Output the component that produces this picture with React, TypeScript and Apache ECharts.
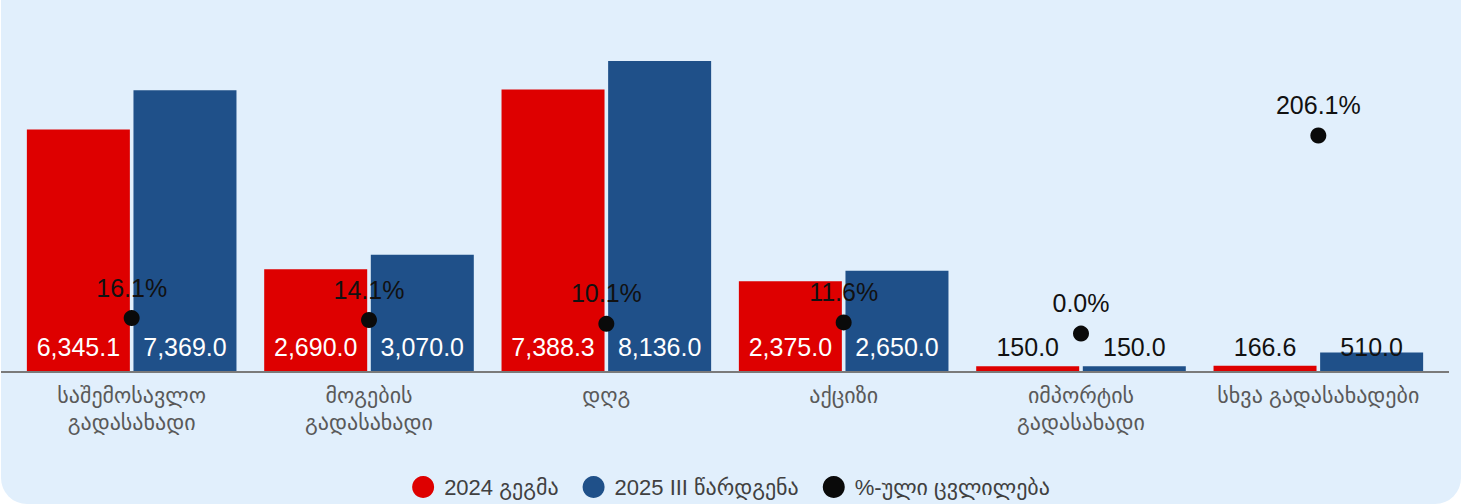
import React, { useEffect, useRef } from "react";
import * as echarts from "echarts";

const categories = [
  "საშემოსავლო\nგადასახადი",
  "მოგების\nგადასახადი",
  "დღგ",
  "აქციზი",
  "იმპორტის\nგადასახადი",
  "სხვა გადასახადები",
];
const plan2024 = [6345.1, 2690.0, 7388.3, 2375.0, 150.0, 166.6];
const submission2025 = [7369.0, 3070.0, 8136.0, 2650.0, 150.0, 510.0];
const pctChange = [16.1, 14.1, 10.1, 11.6, 0.0, 206.1];

const seriesNames = ["2024 გეგმა", "2025 III წარდგენა", "%-ული ცვლილება"];

const FONT = 'Arial, "Liberation Sans", "DejaVu Sans", sans-serif';

const fmt = (v: number) =>
  v.toLocaleString("en-US", { minimumFractionDigits: 1, maximumFractionDigits: 1 });

const barData = (arr: number[]) =>
  arr.map((v) => ({ value: v, label: { color: v >= 1000 ? "#ffffff" : "#111111" } }));

export default function App() {
  const ref = useRef<HTMLDivElement>(null);
  useEffect(() => {
    if (!ref.current) return;
    const chart = echarts.init(ref.current, undefined, { renderer: "svg" });
    const barLabel = {
      show: true,
      position: "insideBottom",
      distance: 13,
      fontSize: 25,
      fontFamily: FONT,
      formatter: (p: any) => fmt(p.value),
    };
    chart.setOption({
      animation: false,
      textStyle: { fontFamily: FONT },
      grid: { left: 12, right: 24, top: 28, bottom: 132, containLabel: false },
      legend: {
        bottom: 1,
        left: "center",
        itemWidth: 32,
        itemHeight: 22,
        itemGap: 24,
        icon: "circle",
        textStyle: { fontSize: 22, color: "#404040", fontFamily: FONT },
        data: seriesNames,
      },
      xAxis: {
        type: "category",
        data: categories,
        axisLine: { show: false },
        axisTick: { show: false },
        axisLabel: {
          interval: 0,
          margin: 10,
          fontSize: 22,
          lineHeight: 27,
          color: "#595959",
          fontFamily: FONT,
        },
      },
      yAxis: [
        { type: "value", min: 0, max: 9000, show: false, splitLine: { show: false } },
        { type: "value", min: -40, max: 318, show: false, splitLine: { show: false } },
      ],
      graphic: [
        {
          type: "line",
          shape: { x1: 0, y1: 372, x2: 1448, y2: 372 },
          style: { stroke: "#7a7a7a", lineWidth: 2 },
          z: 5,
        },
      ],
      series: [
        {
          name: seriesNames[0],
          type: "bar",
          data: barData(plan2024),
          barWidth: 103,
          barGap: "3.5%",
          itemStyle: { color: "#de0000" },
          label: barLabel,
        },
        {
          name: seriesNames[1],
          type: "bar",
          data: barData(submission2025),
          barWidth: 103,
          itemStyle: { color: "#1f5089" },
          label: barLabel,
        },
        {
          name: seriesNames[2],
          type: "scatter",
          yAxisIndex: 1,
          data: pctChange,
          symbolSize: 16,
          z: 10,
          itemStyle: { color: "#0a0a0a", opacity: 1 },
          label: {
            show: true,
            position: "top",
            distance: 10,
            fontSize: 25,
            color: "#111111",
            fontFamily: FONT,
            formatter: (p: any) => `${p.value.toFixed(1)}%`,
          },
        },
      ],
    });
    return () => chart.dispose();
  }, []);
  return (
    <div
      style={{
        position: "absolute",
        left: 1,
        top: 0,
        width: 1460,
        height: 504,
        background: "#e1effc",
        borderRadius: "0 0 26px 26px",
        overflow: "hidden",
      }}
    >
      <div ref={ref} style={{ width: 1460, height: 504 }} />
    </div>
  );
}
